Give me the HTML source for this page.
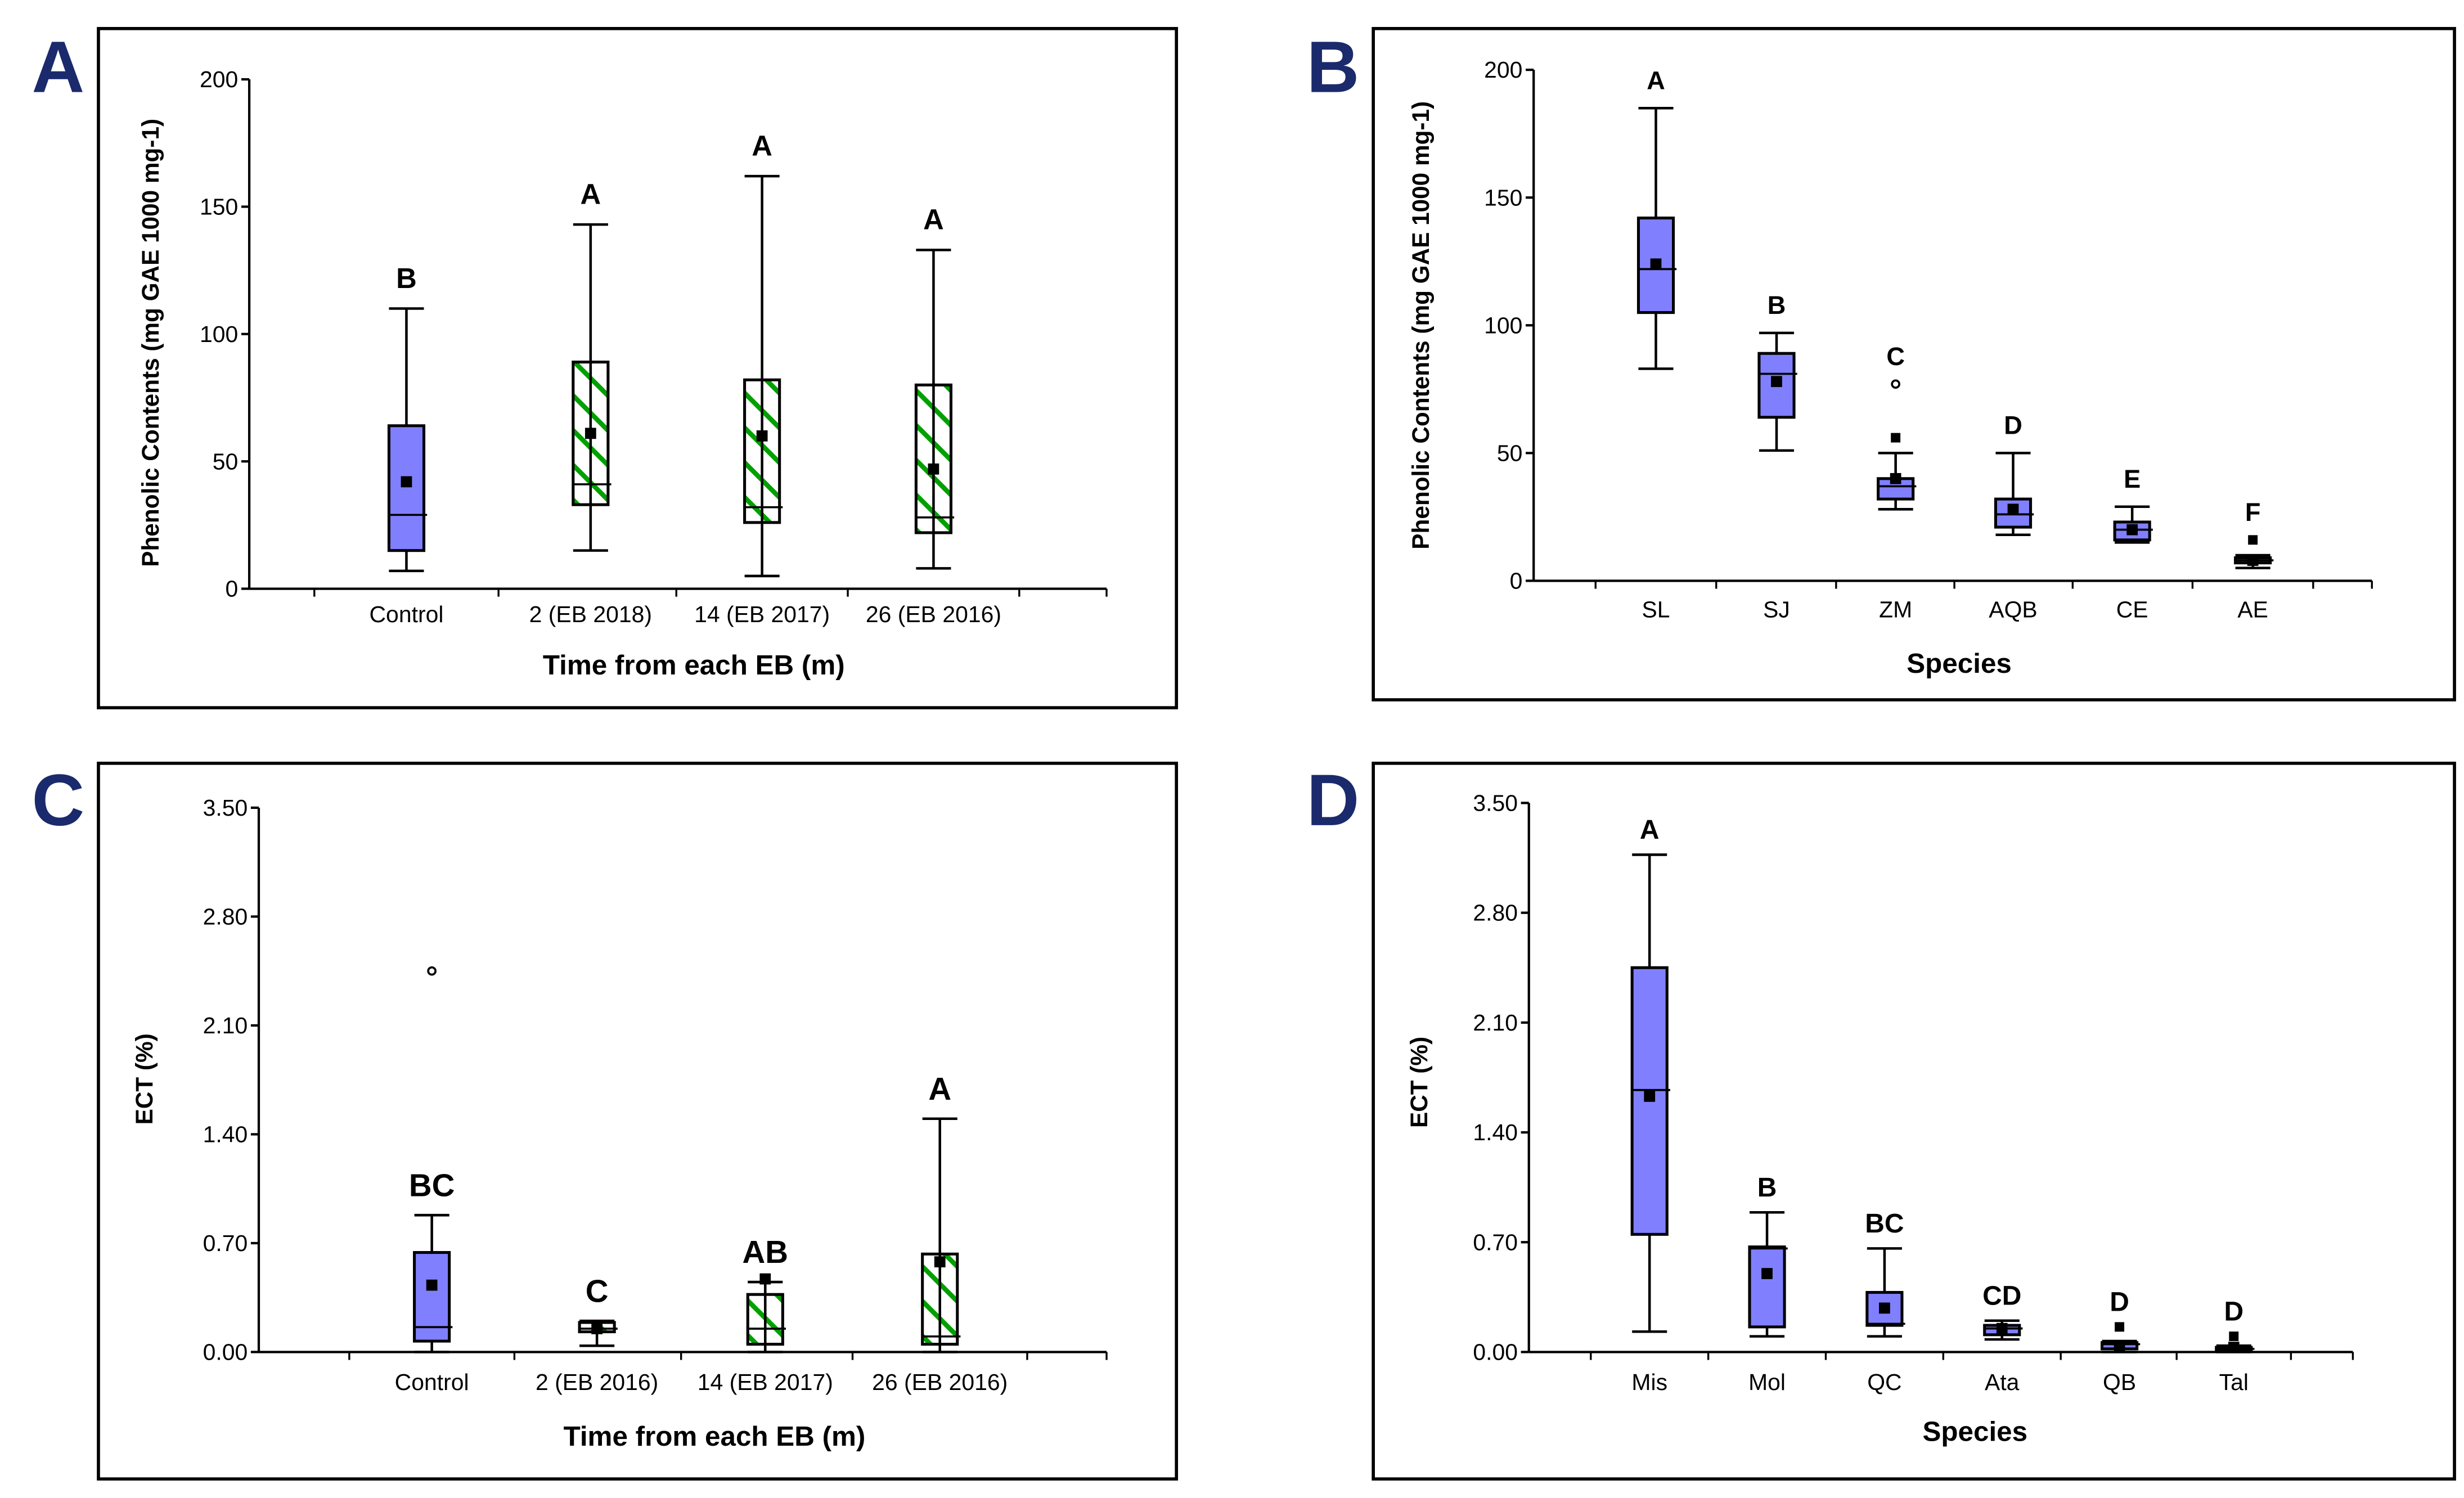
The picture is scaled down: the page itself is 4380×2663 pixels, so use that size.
<!DOCTYPE html>
<html><head><meta charset="utf-8"><style>
html,body{margin:0;padding:0;background:#fff}
svg{display:block}
text{font-family:"Liberation Sans",Arial,sans-serif}
</style></head><body>
<svg id="fig" xmlns="http://www.w3.org/2000/svg" width="4380" height="2663" viewBox="0 0 1552 944" preserveAspectRatio="none">
<defs>
<pattern id="hatch" patternUnits="userSpaceOnUse" width="15.5" height="15.5" patternTransform="rotate(-45)">
<rect width="15.5" height="15.5" fill="#fff"/>
<rect x="0" y="0" width="3" height="15.5" fill="#00a000"/>
</pattern>
</defs>
</svg>
<script>
// Panel A data
const catsA = ["Control","2 (EB 2018)","14 (EB 2017)","26 (EB 2016)"];
const loA = [7,15,5,8];
const q1A = [15,33,26,22];
const medA = [29,41,32,28];
const q3A = [64,89,82,80];
const hiA = [110,143,162,133];
const meanA = [42,61,60,47];
const letA = ["B","A","A","A"];
const hatchA = [false,true,true,true];
const ticksA = [0,50,100,150,200];
// Panel B data
const catsB = ["SL","SJ","ZM","AQB","CE","AE"];
const loB = [83,51,28,18,15,5];
const q1B = [105,64,32,21,16,7];
const medB = [122,81,37,26,20,8];
const q3B = [142,89,40,32,23,9];
const hiB = [185,97,50,50,29,10];
const meanB = [124,78,40,28,20,8];
const outCircB = [null,null,77,null,null,null];
const outSqB = [null,null,56,null,null,16];
const letB = ["A","B","C","D","E","F"];
const ticksB = [0,50,100,150,200];
// Panel C data
const catsC = ["Control","2 (EB 2016)","14 (EB 2017)","26 (EB 2016)"];
const loC = [0.0,0.04,0.0,0.0];
const q1C = [0.07,0.13,0.05,0.05];
const medC = [0.16,0.15,0.15,0.1];
const q3C = [0.64,0.19,0.37,0.63];
const hiC = [0.88,0.2,0.45,1.5];
const meanC = [0.43,0.15,0.47,0.58];
const outCircC = [2.45,null,null,null];
const letC = ["BC","C","AB","A"];
const hatchC = [false,true,true,true];
const ticksC = [0,0.7,1.4,2.1,2.8,3.5];
// Panel D data
const catsD = ["Mis","Mol","QC","Ata","QB","Tal"];
const loD = [0.13,0.1,0.1,0.08,0.0,0.0];
const q1D = [0.75,0.16,0.17,0.11,0.02,0.01];
const medD = [1.67,0.66,0.18,0.15,0.05,0.02];
const q3D = [2.45,0.67,0.38,0.17,0.06,0.03];
const hiD = [3.17,0.89,0.66,0.2,0.07,0.04];
const meanD = [1.63,0.5,0.28,0.15,0.04,0.03];
const outSqD = [null,null,null,null,0.16,0.1];
const letD = ["A","B","BC","CD","D","D"];
const ticksD = [0,0.7,1.4,2.1,2.8,3.5];

const NS="http://www.w3.org/2000/svg";
const svg=document.getElementById('fig');
function mk(tag,attrs,parent,txt){const e=document.createElementNS(NS,tag);for(const k in attrs)e.setAttribute(k,attrs[k]);if(txt!==undefined)e.textContent=txt;(parent||svg).appendChild(e);return e;}

function panel(cfg){
  const g=mk('g',{});
  
  
  const fr=mk('rect',{x:cfg.frame[0],y:cfg.frame[1],width:cfg.frame[2]-cfg.frame[0],height:cfg.frame[3]-cfg.frame[1],fill:'none',stroke:'#000','stroke-width':2},g);
  
  
  const pl=mk('text',{x:cfg.letterX,y:cfg.letterY,'font-size':46,'font-weight':'bold',fill:'#1a2a6c'},g,cfg.id);
  
  
  const y0=cfg.y0,y1=cfg.y1,max=cfg.max;
  const Y=v=>y0-(v/max)*(y0-y1);
  const X=i=>cfg.xs[i];
  const ax=mk('line',{x1:cfg.ax,y1:y1,x2:cfg.ax,y2:y0,stroke:'#000','stroke-width':1.5},g);
  
  
  const bx=mk('line',{x1:cfg.ax,y1:y0,x2:cfg.axEnd,y2:y0,stroke:'#000','stroke-width':1.5},g);
  
  
  cfg.ticks.forEach(t=>{
    mk('line',{x1:cfg.ax-5,y1:Y(t),x2:cfg.ax,y2:Y(t),stroke:'#000','stroke-width':1.5},g);
    const tl=mk('text',{x:cfg.ax-7,y:Y(t)+5,'font-size':14.5,'text-anchor':'end'},g,cfg.fmt(t));
    
    
  });
  const n=cfg.cats.length;
  for(let i=0;i<=n;i++){
    let xt;
    if(i===0) xt=X(0)-(X(1)-X(0))/2; else if(i===n) xt=X(n-1)+(X(n-1)-X(n-2))/2; else xt=(X(i-1)+X(i))/2;
    mk('line',{x1:xt,y1:y0,x2:xt,y2:y0+5,stroke:'#000','stroke-width':1.2},g);
  }
  mk('line',{x1:cfg.axEnd,y1:y0,x2:cfg.axEnd,y2:y0+5,stroke:'#000','stroke-width':1.2},g);
  const hw=11;
  cfg.cats.forEach((c,i)=>{
    const x=X(i);
    const bg=mk('g',{},g);
    
    
    mk('line',{x1:x,y1:Y(cfg.hi[i]),x2:x,y2:Y(cfg.lo[i]),stroke:'#000','stroke-width':1.6},bg);
    mk('line',{x1:x-hw,y1:Y(cfg.hi[i]),x2:x+hw,y2:Y(cfg.hi[i]),stroke:'#000','stroke-width':1.6},bg);
    mk('line',{x1:x-hw,y1:Y(cfg.lo[i]),x2:x+hw,y2:Y(cfg.lo[i]),stroke:'#000','stroke-width':1.6},bg);
    const hatched=cfg.hatch&&cfg.hatch[i];
    const top=Y(cfg.q3[i]),bot=Y(cfg.q1[i]);
    mk('rect',{x:x-hw,y:top,width:2*hw,height:Math.max(bot-top,1),fill:hatched?'url(#hatch)':'#8080ff',stroke:'#000','stroke-width':1.8},bg);
    if(hatched) mk('line',{x1:x,y1:top,x2:x,y2:bot,stroke:'#000','stroke-width':1.6},bg);
    mk('line',{x1:x-hw,y1:Y(cfg.med[i]),x2:x+hw+2,y2:Y(cfg.med[i]),stroke:'#000','stroke-width':1.3},bg);
    mk('rect',{x:x-3.5,y:Y(cfg.mean[i])-3.5,width:7,height:7,fill:'#000'},bg);
    let topV=cfg.hi[i];
    if(cfg.outC&&cfg.outC[i]!=null){ mk('circle',{cx:x,cy:Y(cfg.outC[i]),r:2.3,fill:'#fff',stroke:'#000','stroke-width':1.3},bg); if(!cfg.noOutLet) topV=Math.max(topV,cfg.outC[i]); }
    if(cfg.outS&&cfg.outS[i]!=null){ mk('rect',{x:x-3,y:Y(cfg.outS[i])-3,width:6,height:6,fill:'#000'},bg); topV=Math.max(topV,cfg.outS[i]); }
    const lt=mk('text',{x:x,y:Y(topV)-cfg.letGap,'font-size':cfg.letSize,'font-weight':'bold','text-anchor':'middle'},g,cfg.lets[i]);
    
    
    const xl=mk('text',{x:x,y:cfg.xlY,'font-size':14.5,'text-anchor':'middle'},g,c);
    
    
  });
  const xt=mk('text',{x:cfg.xtX,y:cfg.xtY,'font-size':17.5,'font-weight':'bold','text-anchor':'middle'},g,cfg.xtitle);
  
  
  const yt=mk('text',{x:0,y:0,'font-size':cfg.ytSize,'font-weight':'bold','text-anchor':'middle',transform:'translate('+cfg.ytX+','+cfg.ytY+') rotate(-90)'},g,cfg.ytitle);
  
  
}
panel({id:'A',frame:[62,18,741,446],letterX:20,letterY:58,y0:371,y1:50,max:200,ax:157,axEnd:697,xs:[256,372,480,588],
  cats:catsA,lo:loA,q1:q1A,med:medA,q3:q3A,hi:hiA,mean:meanA,lets:letA,hatch:hatchA,ticks:ticksA,fmt:t=>String(t),
  letGap:13,letSize:18,xlY:392,xtX:437,xtY:425,xtitle:'Time from each EB (m)',ytX:100,ytY:216,ytSize:15,ytitle:'Phenolic Contents (mg GAE 1000 mg-1)'});
panel({id:'B',frame:[865,18,1546,441],letterX:823,letterY:58,y0:366,y1:44,max:200,ax:966,axEnd:1494,xs:[1043,1119,1194,1268,1343,1419],
  cats:catsB,lo:loB,q1:q1B,med:medB,q3:q3B,hi:hiB,mean:meanB,lets:letB,outC:outCircB,outS:outSqB,ticks:ticksB,fmt:t=>String(t),
  letGap:12,letSize:16,xlY:389,xtX:1234,xtY:424,xtitle:'Species',ytX:900,ytY:205,ytSize:15,ytitle:'Phenolic Contents (mg GAE 1000 mg-1)'});
panel({id:'C',frame:[62,481,741,932],letterX:20,letterY:520,y0:852,y1:509,max:3.5,ax:163,axEnd:697,xs:[272,376,482,592],
  cats:catsC,lo:loC,q1:q1C,med:medC,q3:q3C,hi:hiC,mean:meanC,lets:letC,hatch:hatchC,outC:outCircC,noOutLet:true,ticks:ticksC,fmt:t=>t.toFixed(2),
  letGap:12,letSize:20,xlY:876,xtX:450,xtY:911,xtitle:'Time from each EB (m)',ytX:96,ytY:680,ytSize:15,ytitle:'ECT (%)'});
panel({id:'D',frame:[865,481,1546,932],letterX:823,letterY:520,y0:852,y1:506,max:3.5,ax:963,axEnd:1482,xs:[1039,1113,1187,1261,1335,1407],
  cats:catsD,lo:loD,q1:q1D,med:medD,q3:q3D,hi:hiD,mean:meanD,outS:outSqD,lets:letD,ticks:ticksD,fmt:t=>t.toFixed(2),
  letGap:10,letSize:17,xlY:876,xtX:1244,xtY:908,xtitle:'Species',ytX:899,ytY:682,ytSize:15,ytitle:'ECT (%)'});
</script>
</body></html>
